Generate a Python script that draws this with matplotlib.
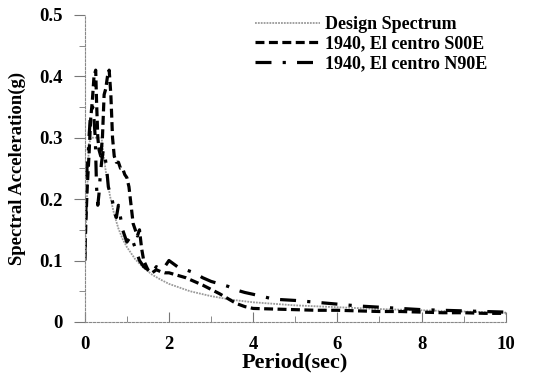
import matplotlib
matplotlib.use("Agg")
import matplotlib.pyplot as plt
from matplotlib.ticker import MultipleLocator

# design spectrum
design_T = [0.0, 0.05, 0.1, 0.15, 0.25, 0.4, 0.45, 0.5, 0.6, 0.7, 0.8, 0.9, 1.0,
            1.2, 1.4, 1.6, 1.8, 2.0, 2.5, 3.0, 3.5, 4.0, 5.0, 6.0, 7.0, 8.0, 9.0, 10.0]
design_sa = [0.10, 0.20, 0.29, 0.30, 0.30, 0.30, 0.27, 0.245, 0.205, 0.175, 0.152, 0.135, 0.122,
             0.102, 0.088, 0.077, 0.069, 0.062, 0.05, 0.042, 0.036, 0.032, 0.027, 0.024, 0.021, 0.019, 0.017, 0.015]

# 1940 El centro S00E
s00e_T = [0.0, 0.03, 0.06, 0.1, 0.14, 0.18, 0.22, 0.26, 0.28, 0.31,
          0.34, 0.38, 0.42, 0.46, 0.5, 0.54, 0.58, 0.62, 0.66, 0.7,
          0.75, 0.8, 0.85, 0.9, 0.95, 1.0, 1.05, 1.1, 1.15, 1.2,
          1.25, 1.3, 1.35, 1.4, 1.5, 1.6, 1.7, 1.8, 1.9, 2.0,
          2.2, 2.4, 2.6, 2.8, 3.0, 3.2, 3.4, 3.6, 3.8, 4.0,
          4.5, 5.0, 5.5, 6.0, 6.5, 7.0, 7.5, 8.0, 8.5, 9.0,
          9.5, 10.0]
s00e_sa = [0.10, 0.17, 0.22, 0.27, 0.33, 0.36, 0.40, 0.41, 0.36, 0.30,
           0.28, 0.27, 0.30, 0.37, 0.38, 0.40, 0.41, 0.37, 0.30, 0.27,
           0.26, 0.26, 0.25, 0.25, 0.24, 0.235, 0.22, 0.19, 0.16, 0.15,
           0.14, 0.15, 0.12, 0.10, 0.085, 0.08, 0.085, 0.082, 0.08, 0.08,
           0.076, 0.072, 0.066, 0.06, 0.053, 0.046, 0.038, 0.03, 0.025, 0.022,
           0.021, 0.02, 0.019, 0.019, 0.018, 0.017, 0.017, 0.016, 0.015, 0.015,
           0.014, 0.014]

# 1940 El centro N90E
n90e_T = [0.0, 0.02, 0.05, 0.08, 0.1, 0.13, 0.16, 0.19, 0.22, 0.25,
          0.28, 0.31, 0.34, 0.37, 0.4, 0.44, 0.48, 0.52, 0.56, 0.6,
          0.65, 0.7, 0.75, 0.8, 0.85, 0.9, 0.95, 1.0, 1.05, 1.1,
          1.2, 1.3, 1.4, 1.5, 1.6, 1.7, 1.8, 1.9, 2.0, 2.1,
          2.2, 2.4, 2.6, 2.8, 3.0, 3.2, 3.4, 3.6, 3.8, 4.0,
          4.5, 5.0, 5.5, 6.0, 6.5, 7.0, 7.5, 8.0, 8.5, 9.0,
          9.5, 10.0]
n90e_sa = [0.10, 0.16, 0.25, 0.27, 0.30, 0.33, 0.34, 0.35, 0.33, 0.30,
           0.22, 0.19, 0.21, 0.24, 0.26, 0.28, 0.27, 0.25, 0.22, 0.21,
           0.20, 0.18, 0.17, 0.19, 0.17, 0.15, 0.14, 0.13, 0.135, 0.14,
           0.12, 0.10, 0.09, 0.085, 0.08, 0.09, 0.085, 0.09, 0.10, 0.095,
           0.09, 0.085, 0.08, 0.072, 0.066, 0.062, 0.058, 0.052, 0.048, 0.045,
           0.037, 0.035, 0.032, 0.029, 0.026, 0.024, 0.022, 0.02, 0.019, 0.018,
           0.017, 0.016]

plt.rcParams["font.family"] = ["Liberation Serif", "DejaVu Serif"]
plt.rcParams["font.weight"] = "bold"

fig = plt.figure(figsize=(5.33, 3.81), dpi=100)
ax = fig.add_axes([0.159, 0.155, 0.79, 0.806])

ax.plot(design_T, design_sa, color="#9a9a9a", lw=1.3, ls=(0, (1, 0.6)),
        label="Design Spectrum")
ax.plot(s00e_T, s00e_sa, color="black", lw=2.3, ls=(0, (2.8, 1.4)),
        label="1940, El centro S00E")
ax.plot(n90e_T, n90e_sa, color="black", lw=2.3, ls=(0, (5, 3.5, 1, 3.5)),
        label="1940, El centro N90E")

ax.set_xlim(0, 10)
ax.set_ylim(0, 0.5)
ax.xaxis.set_major_locator(MultipleLocator(2))
ax.xaxis.set_minor_locator(MultipleLocator(1))
ax.set_yticks([0, 0.1, 0.2, 0.3, 0.4, 0.5])
ax.set_yticklabels(["0", "0.1", "0.2", "0.3", "0.4", "0.5"])
ax.yaxis.set_minor_locator(MultipleLocator(0.05))

for side in ["top", "right"]:
    ax.spines[side].set_visible(False)
for side in ["left", "bottom"]:
    ax.spines[side].set_color("#888888")
    ax.spines[side].set_linestyle((0, (2, 1.5)))
    ax.spines[side].set_linewidth(0.8)

ax.tick_params(axis="x", which="both", direction="in", color="#777777",
               labelsize=13.5, pad=10)
ax.tick_params(axis="x", which="major", length=7)
ax.tick_params(axis="x", which="minor", length=4)
ax.tick_params(axis="y", which="both", direction="out", color="#777777",
               labelsize=13.5, pad=8)
ax.tick_params(axis="y", which="major", length=8)
ax.tick_params(axis="y", which="minor", length=4)

ax.set_xlabel("Period(sec)", fontsize=16, fontweight="bold", labelpad=0)
ax.set_ylabel("Spectral Acceleration(g)", fontsize=13.5, fontweight="bold")
ax.yaxis.set_label_coords(-0.14, 0.5)

ax.legend(loc="upper left", bbox_to_anchor=(0.478, 0.958),
          bbox_transform=fig.transFigure, frameon=False, borderpad=0,
          borderaxespad=0, prop={"size": 13, "weight": "bold"},
          handlelength=3.6, handletextpad=0.3, labelspacing=0.15)

fig.savefig("out.png", dpi=100)
